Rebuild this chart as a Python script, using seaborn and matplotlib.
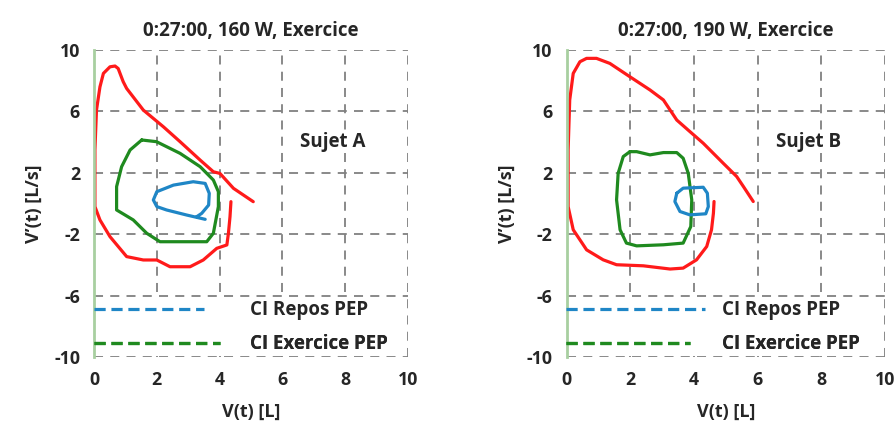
import matplotlib
matplotlib.use('Agg')
import matplotlib.pyplot as plt
import pandas as pd
import seaborn as sns
from matplotlib.lines import Line2D

sns.set_theme(style='white')
plt.rcParams['font.family'] = ['Open Sans', 'DejaVu Sans']
plt.rcParams['font.weight'] = 'bold'
plt.rcParams['axes.unicode_minus'] = False

# Sujet A (160 W) loops
a_exo_x = [5.07, 4.44, 4.01, 3.80, 3.38, 2.74, 2.21, 1.57, 1.04, 0.93, 0.77, 0.67, 0.51, 0.30, 0.19, 0.08, 0.03, 0.03,
           0.19, 0.51, 1.04, 1.57, 2.00, 2.42, 3.06, 3.48, 3.91, 4.23, 4.28, 4.33, 4.36]
a_exo_y = [0.12, 0.99, 1.96, 2.07, 2.83, 4.03, 5.00, 6.09, 7.50, 7.94, 8.80, 8.96, 8.91, 8.48, 7.60, 6.09, 3.49, -0.20,
           -1.07, -2.16, -3.46, -3.68, -3.68, -4.12, -4.12, -3.68, -2.92, -2.70, -1.94, -0.86, 0.12]
a_pep_x = [1.52, 1.99, 2.74, 3.38, 3.80, 3.96, 3.96, 3.80, 3.59, 2.95, 2.10, 1.68, 1.25, 0.99, 0.72, 0.72, 0.88, 1.15, 1.52]
a_pep_y = [4.14, 4.03, 3.27, 2.40, 1.53, 0.77, -0.20, -1.94, -2.49, -2.49, -2.49, -1.94, -1.07, -0.75, -0.42, 1.10, 2.40, 3.49, 4.14]
a_rep_x = [3.54, 2.95, 2.31, 2.00, 1.89, 2.00, 2.53, 3.16, 3.54, 3.67, 3.65, 3.43, 3.27]
a_rep_y = [-1.03, -0.75, -0.42, -0.20, 0.23, 0.77, 1.20, 1.42, 1.31, 0.66, -0.10, -0.64, -0.86]

# Sujet B (190 W) loops
b_exo_x = [5.86, 5.55, 5.34, 4.92, 4.29, 3.87, 3.46, 3.04, 2.62, 1.99, 1.36, 0.94, 0.63, 0.42, 0.21, 0.10, 0.05, 0.05,
           0.21, 0.63, 1.15, 1.57, 2.41, 3.25, 3.66, 4.08, 4.40, 4.55, 4.61, 4.63]
b_exo_y = [0.13, 1.11, 1.76, 2.62, 3.93, 4.69, 5.44, 6.75, 7.40, 8.26, 9.13, 9.46, 9.46, 9.24, 8.48, 6.75, 3.49, -0.20,
           -1.71, -3.02, -3.67, -3.99, -4.06, -4.27, -4.21, -3.67, -2.80, -1.71, -0.63, 0.13]
b_pep_x = [1.99, 2.20, 2.62, 3.04, 3.46, 3.66, 3.82, 3.93, 3.90, 3.66, 3.04, 2.20, 1.88, 1.68, 1.57, 1.62, 1.78, 1.99]
b_pep_y = [3.38, 3.38, 3.17, 3.32, 3.32, 2.95, 1.97, 0.24, -1.50, -2.58, -2.69, -2.76, -2.58, -1.71, 0.24, 1.97, 3.06, 3.38]
b_rep_x = [3.46, 3.66, 4.29, 4.42, 4.45, 4.37, 3.87, 3.56, 3.40, 3.46]
b_rep_y = [0.67, 1.00, 1.06, 0.67, -0.20, -0.67, -0.74, -0.52, 0.13, 0.67]

titles = ['0:27:00, 160 W, Exercice', '0:27:00, 190 W, Exercice']
subjects = ['Sujet A', 'Sujet B']
ticks = [0, 2, 4, 6, 8, 10]
yticks = [-10, -6, -2, 2, 6, 10]
legend_labels = ['CI Repos PEP', 'CI Exercice PEP']

RED, GREEN, BLUE = '#ff1a1a', '#1f8a1f', '#1f86c6'

panels = [
    [(a_exo_x, a_exo_y, RED), (a_pep_x, a_pep_y, GREEN), (a_rep_x, a_rep_y, BLUE)],
    [(b_exo_x, b_exo_y, RED), (b_pep_x, b_pep_y, GREEN), (b_rep_x, b_rep_y, BLUE)],
]
# legend handle length / text pad (in font units) for each panel: blue row, green row
legend_geom = [[(5.85, 2.45), (6.7, 1.6)], [(7.4, 0.9), (6.6, 1.7)]]

fig = plt.figure(figsize=(8.95, 4.28), dpi=100)
axes = [fig.add_axes([0.105, 0.166, 0.351, 0.717]), fig.add_axes([0.633, 0.166, 0.356, 0.717])]

FS = 13.5
for ax, loops, title, subj, geom in zip(axes, panels, titles, subjects, legend_geom):
    for xs, ys, col in loops:
        df = pd.DataFrame({'x': xs, 'y': ys})
        sns.lineplot(data=df, x='x', y='y', sort=False, estimator=None, color=col, lw=2.3, ax=ax)
    ax.set_xlim(0, 10)
    ax.set_ylim(-10, 10)
    ax.set_xticks(ticks)
    ax.set_yticks(yticks)
    ax.grid(True, color='#808080', ls=(0, (5, 4)), lw=1.3)
    for s in ['top', 'right', 'bottom']:
        ax.spines[s].set_visible(False)
    ax.spines['left'].set_color('#a8cfa0')
    ax.spines['left'].set_linewidth(2)
    ax.tick_params(axis='both', labelsize=12.8, length=0, pad=10)
    for lab in ax.get_xticklabels() + ax.get_yticklabels():
        lab.set_fontweight('bold')
    ax.set_title(title, fontsize=FS, fontweight='bold', pad=10)
    ax.set_xlabel('V(t) [L]', fontsize=13, fontweight='bold', labelpad=10)
    ax.set_ylabel('V\u2019(t) [L/s]', fontsize=13, fontweight='bold', labelpad=8)
    ax.text(7.6, 4.0, subj, fontsize=FS, fontweight='bold', ha='center', va='center',
            bbox=dict(facecolor='white', edgecolor='none', pad=1))
    # white band behind the legend area, as in the original
    ax.axhspan(-9.93, -6.12, xmin=0.003, xmax=0.985, color='white', zorder=1.6, lw=0)
    for (hl, tp), col, lab, yf in zip(geom, [BLUE, GREEN], legend_labels, [0.152, 0.042]):
        h = Line2D([], [], color=col, lw=2.3, ls=(0, (3.5, 1.8)))
        leg = ax.legend([h], [lab], loc='center left', bbox_to_anchor=(-0.012, yf), frameon=False,
                        handlelength=hl, handletextpad=tp, borderaxespad=0, borderpad=0.2,
                        prop={'size': FS, 'weight': 'bold'})
        ax.add_artist(leg)

fig.savefig('out.png', dpi=100)
